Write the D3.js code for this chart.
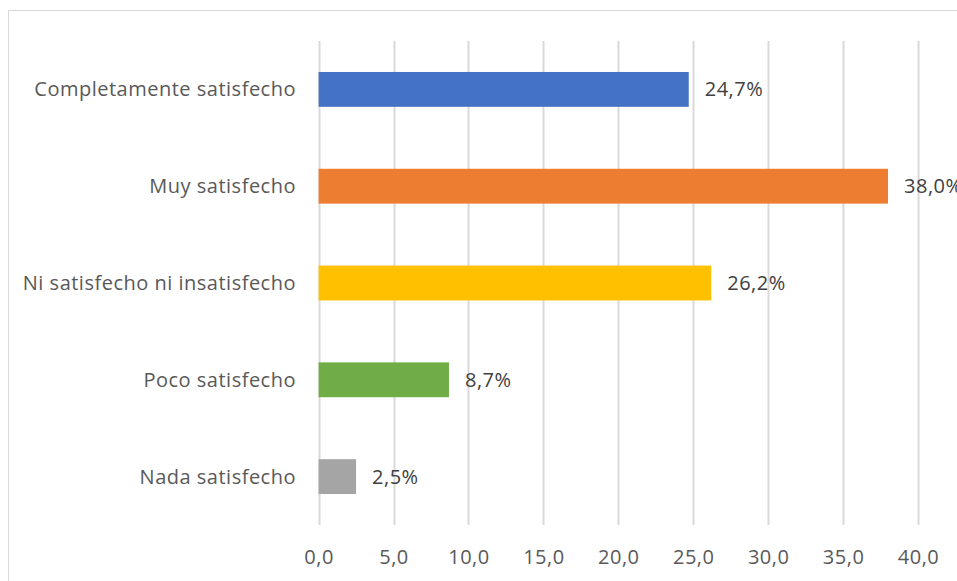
<!DOCTYPE html>
<html><head><meta charset="utf-8">
<script src="https://cdn.jsdelivr.net/npm/d3@7"></script>
<style>body{margin:0;background:#fff}svg{display:block}text{font-family:"Open Sans",sans-serif;letter-spacing:0.5px}</style>
</head><body>
<svg id="c" width="957" height="581"></svg>
<script>
const categories = ["Completamente satisfecho","Muy satisfecho","Ni satisfecho ni insatisfecho","Poco satisfecho","Nada satisfecho"];
const values = [24.7, 38.0, 26.2, 8.7, 2.5];
const colors = ["#4472C4","#ED7D31","#FFC000","#70AD47","#A5A5A5"];
const ticks = [0,5,10,15,20,25,30,35,40];

const svg = d3.select("#c");
svg.append("rect").attr("x",8.5).attr("y",10.5).attr("width",1000).attr("height",1000)
  .attr("fill","#fff").attr("stroke","#D9D9D9");

const x = d3.scaleLinear().domain([0,40]).range([318.6,918]);
const y = d3.scaleBand().domain(categories).range([41,525]).paddingInner(0.64).paddingOuter(0.32);

const g = svg.append("g");
g.selectAll("line.grid").data(ticks).join("line")
  .attr("x1",d=>Math.round(x(d))+0.5).attr("x2",d=>Math.round(x(d))+0.5)
  .attr("y1",41).attr("y2",525).attr("stroke","#D9D9D9").attr("stroke-width",2);

const fmt = d=>d.toFixed(1).replace(".",",");
const xa = d3.axisBottom(x).tickValues(ticks).tickFormat(fmt).tickSize(0).tickPadding(0);
const ax = svg.append("g").attr("transform","translate(0,564)").call(xa);
ax.select(".domain").remove();
ax.selectAll("text").attr("fill","#595959").attr("font-size","20px").attr("dy",0)
  .attr("font-family","Open Sans").style("letter-spacing","0.5px");

g.selectAll("rect.bar").data(values).join("rect")
  .attr("x",x(0)).attr("y",(d,i)=>y(categories[i]))
  .attr("width",d=>x(d)-x(0)).attr("height",y.bandwidth())
  .attr("fill",(d,i)=>colors[i]);

g.selectAll("text.cat").data(categories).join("text")
  .attr("x",296).attr("y",d=>y(d)+y.bandwidth()/2).attr("dy","0.35em")
  .attr("text-anchor","end").attr("fill","#595959").attr("font-size","20px").text(d=>d);

g.selectAll("text.val").data(values).join("text")
  .attr("x",d=>x(d)+16).attr("y",(d,i)=>y(categories[i])+y.bandwidth()/2).attr("dy","0.35em")
  .attr("fill","#404040").attr("font-size","20px").text(d=>fmt(d)+"%");
</script>
</body></html>
